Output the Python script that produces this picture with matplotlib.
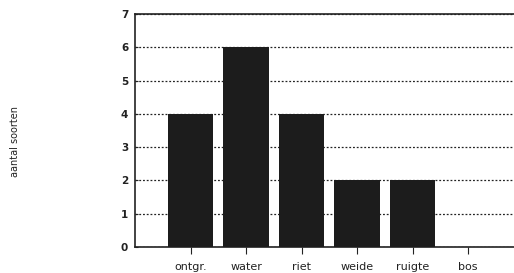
import matplotlib
matplotlib.use("Agg")
import matplotlib.pyplot as plt

categories = ["ontgr.", "water", "riet", "weide", "ruigte", "bos"]
counts = [4, 6, 4, 2, 2, 0]
yticks = [0, 1, 2, 3, 4, 5, 6, 7]

fig = plt.figure(figsize=(5.14, 2.73), dpi=100)
ax = fig.add_axes([0.263, 0.095, 0.745, 0.854])

x = list(range(len(categories)))
ax.bar(x, counts, width=0.82, color="#1c1c1c", zorder=3)

ax.set_xlim(-1.0, 5.9)
ax.set_ylim(0, 7)
ax.set_yticks(yticks)
ax.set_yticklabels([str(v) for v in yticks], fontsize=7.5, fontweight="bold")
ax.set_xticks(x)
ax.set_xticklabels(categories, fontsize=8)

ax.yaxis.grid(True, linestyle=(0, (1.5, 1.5)), color="#222222", linewidth=0.9, zorder=0)
ax.xaxis.grid(False)

for side in ["left", "bottom", "top"]:
    ax.spines[side].set_linewidth(1.2)
    ax.spines[side].set_color("#222222")
ax.spines["right"].set_visible(False)

ax.tick_params(axis="y", direction="in", length=2, pad=5, colors="#222222")
ax.tick_params(axis="x", direction="out", length=5, pad=6, colors="#222222")

fig.text(0.03, 0.483, "aantal soorten", rotation=90, fontsize=7,
         ha="center", va="center", color="#222222")

fig.savefig("out.png", dpi=100, facecolor="white")
